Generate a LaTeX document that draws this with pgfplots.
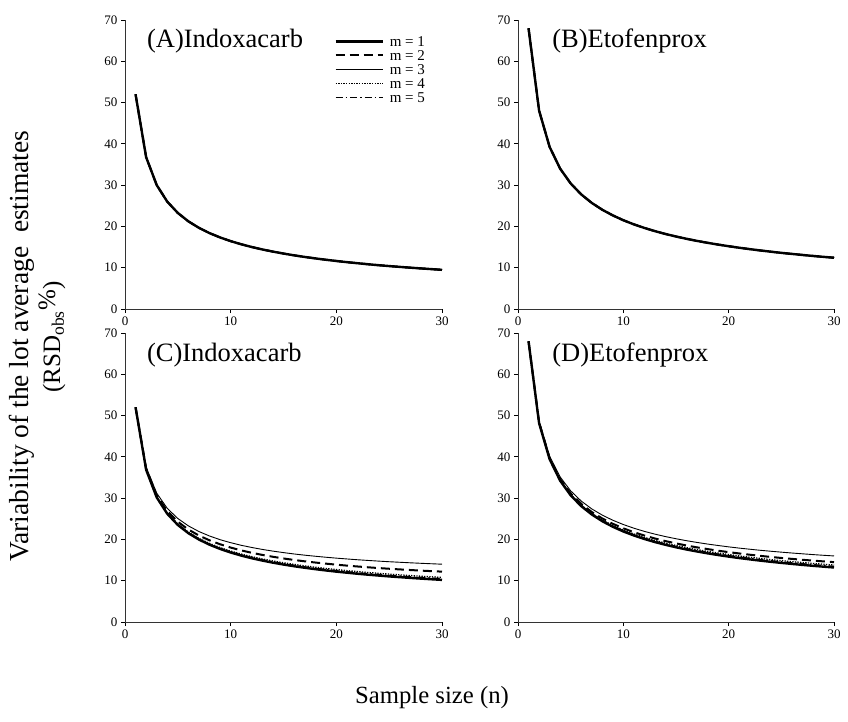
\documentclass[border=0pt]{standalone}
\usepackage{pgfplots}
\usepackage{pgfplotstable}
\usepackage{fontspec}
\setmainfont{Liberation Serif}
\pgfplotsset{compat=1.18}

\pgfplotstableread{
n v
1 52.00
2 36.77
3 30.02
4 26.00
5 23.26
6 21.23
7 19.65
8 18.38
9 17.33
10 16.44
11 15.68
12 15.01
13 14.42
14 13.90
15 13.43
16 13.00
17 12.61
18 12.26
19 11.93
20 11.63
21 11.35
22 11.09
23 10.84
24 10.61
25 10.40
26 10.20
27 10.01
28 9.83
29 9.66
30 9.49
}\tabA

\pgfplotstableread{
n v
1 68.00
2 48.08
3 39.26
4 34.00
5 30.41
6 27.76
7 25.70
8 24.04
9 22.67
10 21.50
11 20.50
12 19.63
13 18.86
14 18.17
15 17.56
16 17.00
17 16.49
18 16.03
19 15.60
20 15.21
21 14.84
22 14.50
23 14.18
24 13.88
25 13.60
26 13.34
27 13.09
28 12.85
29 12.63
30 12.42
}\tabB

\pgfplotstableread{
n m1 m2 m3 m4 m5
1 52.00 52.00 52.00 52.00 52.00
2 36.87 37.18 37.51 36.96 36.91
3 30.18 30.69 31.21 30.33 30.25
4 26.21 26.86 27.53 26.39 26.30
5 23.50 24.28 25.07 23.72 23.61
6 21.51 22.39 23.28 21.76 21.63
7 19.97 20.94 21.91 20.24 20.10
8 18.72 19.78 20.83 19.03 18.87
9 17.70 18.83 19.94 18.02 17.86
10 16.83 18.03 19.21 17.18 17.00
11 16.09 17.35 18.58 16.45 16.27
12 15.44 16.76 18.05 15.83 15.63
13 14.88 16.25 17.58 15.27 15.07
14 14.37 15.80 17.17 14.78 14.58
15 13.92 15.39 16.81 14.35 14.13
16 13.51 15.03 16.48 13.95 13.73
17 13.14 14.70 16.19 13.60 13.37
18 12.80 14.41 15.93 13.27 13.03
19 12.49 14.14 15.69 12.97 12.73
20 12.20 13.89 15.47 12.70 12.45
21 11.94 13.66 15.27 12.44 12.19
22 11.69 13.45 15.08 12.21 11.95
23 11.46 13.25 14.91 11.99 11.72
24 11.25 13.07 14.75 11.79 11.52
25 11.04 12.90 14.60 11.60 11.32
26 10.86 12.74 14.47 11.42 11.14
27 10.68 12.59 14.34 11.25 10.96
28 10.51 12.45 14.22 11.09 10.80
29 10.35 12.32 14.11 10.94 10.65
30 10.20 12.20 14.00 10.80 10.50
}\tabC

\pgfplotstableread{
n m1 m2 m3 m4 m5
1 68.00 68.00 68.00 68.00 68.00
2 48.19 48.38 48.63 48.28 48.23
3 39.44 39.75 40.14 39.58 39.51
4 34.23 34.63 35.14 34.41 34.32
5 30.68 31.16 31.77 30.90 30.79
6 28.07 28.62 29.30 28.32 28.19
7 26.05 26.65 27.40 26.32 26.18
8 24.42 25.08 25.89 24.72 24.57
9 23.07 23.78 24.65 23.39 23.23
10 21.93 22.69 23.61 22.28 22.10
11 20.96 21.75 22.72 21.32 21.14
12 20.11 20.94 21.95 20.49 20.30
13 19.36 20.23 21.28 19.76 19.56
14 18.70 19.60 20.69 19.11 18.90
15 18.10 19.04 20.17 18.53 18.31
16 17.56 18.53 19.69 18.01 17.78
17 17.08 18.07 19.27 17.53 17.30
18 16.63 17.66 18.88 17.10 16.86
19 16.22 17.27 18.53 16.70 16.46
20 15.84 16.92 18.20 16.34 16.09
21 15.49 16.60 17.90 16.00 15.75
22 15.17 16.30 17.63 15.69 15.43
23 14.86 16.02 17.37 15.40 15.13
24 14.58 15.76 17.14 15.12 14.85
25 14.32 15.51 16.92 14.87 14.59
26 14.07 15.29 16.71 14.63 14.35
27 13.83 15.07 16.52 14.40 14.12
28 13.61 14.87 16.33 14.19 13.90
29 13.40 14.68 16.16 13.99 13.69
30 13.20 14.50 16.00 13.80 13.50
}\tabD

\tikzset{
  ttl/.style={anchor=west, font=\fontsize{26.5}{26.5}\selectfont, inner sep=0pt},
  s1/.style={black, line width=2.4pt},
  s2/.style={black, line width=2.0pt, dash pattern=on 9pt off 5pt},
  s3/.style={black, line width=0.9pt},
  s4/.style={black, line width=1.3pt, dash pattern=on 1.3pt off 1.3pt},
  s5/.style={black, line width=1.3pt, dash pattern=on 7pt off 3pt on 1.5pt off 3pt},
}
\pgfplotsset{
  panel/.style={
    scale only axis, anchor=south west,
    width=317pt, height=289pt,
    xmin=0, xmax=30, ymin=0, ymax=70,
    xtick={0,10,20,30}, ytick={0,10,...,70},
    axis x line=bottom, axis y line=left,
    axis line style={-, black!80, line width=0.8pt},
    tick style={black, line width=0.8pt},
    tick align=outside, major tick length=4pt,
    ticklabel style={font=\fontsize{13}{13}\selectfont},
    /pgf/number format/assume math mode=true,
    legend image code/.code={\draw[##1] (0pt,0pt) -- (47pt,0pt);},
  },
}

\begin{document}
\begin{tikzpicture}[x=1pt,y=1pt]
\path[use as bounding box] (0,0) rectangle (848,-722);

% Panel A
\begin{axis}[panel, at={(125pt,-309pt)},
  legend style={at={(rel axis cs:0.66,0.944)}, anchor=north west, draw=none, fill=none,
    font=\fontsize{15}{15}\selectfont, row sep=4pt, inner sep=0pt,
    nodes={inner sep=0pt, text height=10pt, text depth=0pt},
    /tikz/every odd column/.append style={column sep=6pt}},
  legend cell align=left]
\addplot[s1] table[x=n,y=v]{\tabA}; \addlegendentry{m = 1}
\addplot[s2] table[x=n,y=v]{\tabA}; \addlegendentry{m = 2}
\addplot[s3] table[x=n,y=v]{\tabA}; \addlegendentry{m = 3}
\addplot[s4] table[x=n,y=v]{\tabA}; \addlegendentry{m = 4}
\addplot[s5] table[x=n,y=v]{\tabA}; \addlegendentry{m = 5}
\node[ttl] at (rel axis cs:0.069,0.928) {(A)Indoxacarb};
\end{axis}

% Panel B
\begin{axis}[panel, at={(518pt,-309pt)}, width=316pt]
\addplot[s1] table[x=n,y=v]{\tabB};
\addplot[s2] table[x=n,y=v]{\tabB};
\addplot[s3] table[x=n,y=v]{\tabB};
\addplot[s4] table[x=n,y=v]{\tabB};
\addplot[s5] table[x=n,y=v]{\tabB};
\node[ttl] at (rel axis cs:0.108,0.928) {(B)Etofenprox};
\end{axis}

% Panel C
\begin{axis}[panel, at={(125pt,-622pt)}]
\addplot[s3] table[x=n,y=m3]{\tabC};
\addplot[s2] table[x=n,y=m2]{\tabC};
\addplot[s4] table[x=n,y=m4]{\tabC};
\addplot[s5] table[x=n,y=m5]{\tabC};
\addplot[s1] table[x=n,y=m1]{\tabC};
\node[ttl] at (rel axis cs:0.069,0.924) {(C)Indoxacarb};
\end{axis}

% Panel D
\begin{axis}[panel, at={(518pt,-622pt)}, width=316pt]
\addplot[s3] table[x=n,y=m3]{\tabD};
\addplot[s2] table[x=n,y=m2]{\tabD};
\addplot[s4] table[x=n,y=m4]{\tabD};
\addplot[s5] table[x=n,y=m5]{\tabD};
\addplot[s1] table[x=n,y=m1]{\tabD};
\node[ttl] at (rel axis cs:0.108,0.924) {(D)Etofenprox};
\end{axis}

\node[font=\fontsize{24.7}{24.7}\selectfont] at (432,-698) {Sample size (n)};
\node[rotate=90, font=\fontsize{27.5}{27.5}\selectfont] at (22,-346) {Variability of the lot average\ \ estimates};
\node[rotate=90, font=\fontsize{25}{25}\selectfont] at (52,-337) {(RSD$_{\mathrm{obs}}$\raisebox{0.45ex}{\%})};
\end{tikzpicture}
\end{document}
